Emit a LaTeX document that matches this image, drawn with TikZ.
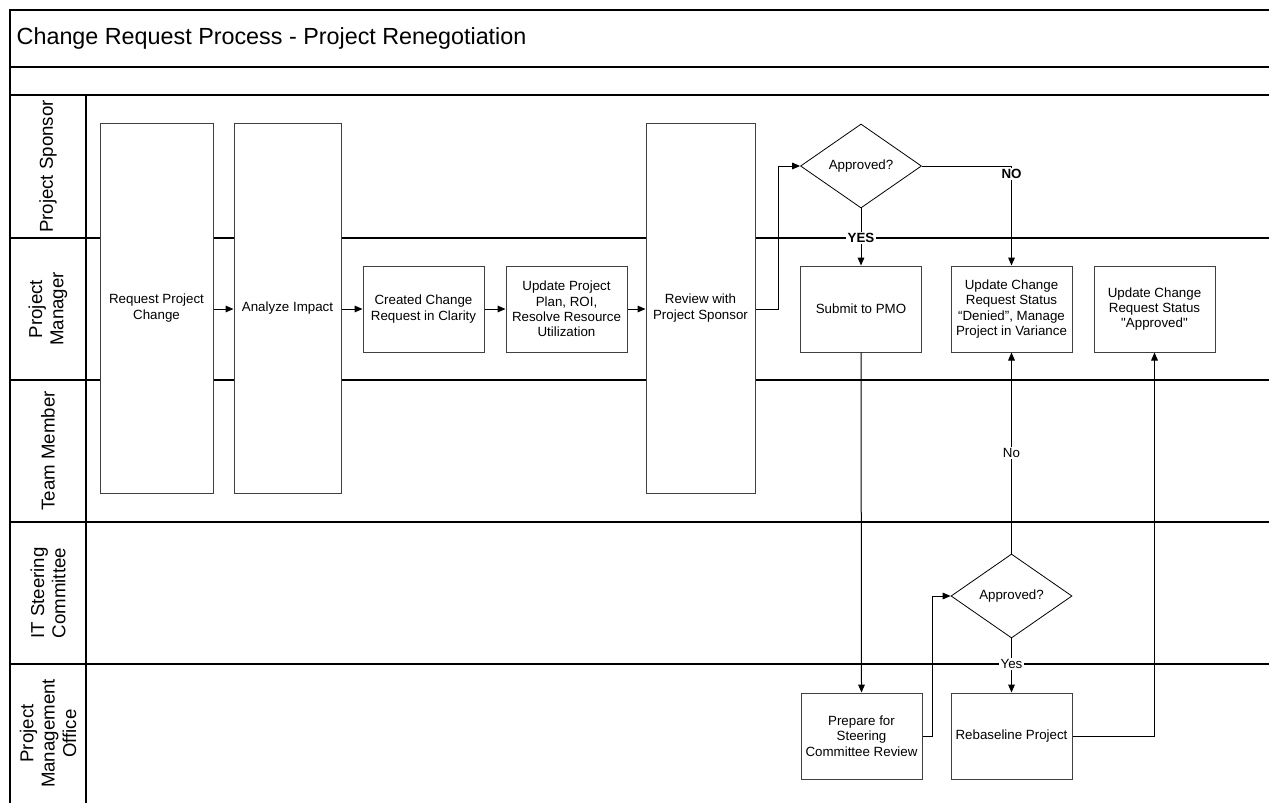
\documentclass[tikz,border=0pt]{standalone}
\usepackage{fontspec}
\setmainfont{Liberation Sans}
\usetikzlibrary{
  arrows.meta,
  calc,
  positioning,
  shapes
}

\tikzset{
  lanetext/.style={rotate=90, align=center, font=\fontsize{14}{16}\selectfont},
  laneline/.style={line width=0.8pt},
  task/.style={draw=black!75, fill=white, line width=0.75pt, align=center,
    font=\fontsize{10}{11.5}\selectfont, inner sep=2pt,
    minimum width=90.75pt, minimum height=64.5pt},
  tallbox/.style={task, minimum height=277.5pt},
  decision/.style={diamond, draw=black, fill=white, line width=0.6pt,
    aspect=1.44, inner sep=0pt, minimum width=90.75pt, minimum height=63pt,
    font=\fontsize{10}{11.5}\selectfont},
  flow/.style={->, >={Triangle[length=6pt,width=5pt]}, line width=0.75pt},
  lbl/.style={fill=white, inner sep=1pt, font=\bfseries\fontsize{10}{11.5}\selectfont},
  lblplain/.style={fill=white, inner sep=1pt, font=\fontsize{10}{11.5}\selectfont}
}

\begin{document}
\begin{tikzpicture}[x=0.75pt, y=-0.75pt]
  \useasboundingbox (0,0) rectangle (1269,803);
  % pool frame and title
  \draw[laneline] (10,803) -- (10,10) -- (1269,10);
  \draw[laneline] (10,67) -- (1269,67);
  \draw[laneline] (10,95) -- (1269,95);
  \node[anchor=west, font=\fontsize{17.5}{20}\selectfont] (Title) at (12,38)
    {Change Request Process - Project Renegotiation};
  % lanes
  \draw[laneline] (86,95) -- (86,803);
  \foreach \y in {238,380,522,664}
    \draw[laneline] (10,\y) -- (1269,\y);
  \node[lanetext] (LaneSponsor) at (48,166.5) {Project Sponsor};
  \node[lanetext] (LaneManager) at (48,309) {Project\\Manager};
  \node[lanetext] (LaneTeam) at (48,451) {Team Member};
  \node[lanetext] (LaneSteering) at (48,593) {IT Steering\\Committee};
  \node[lanetext] (LanePMO) at (48,733.5) {Project\\Management\\Office};

  % tall steps over three lanes
  \node[tallbox, minimum width=84.75pt] (ReqChange) at (156.5,308) {Request Project\\Change};
  \node[tallbox, minimum width=80.25pt] (Analyze) at (287.5,308) {Analyze Impact};
  \node[tallbox, minimum width=81.75pt] (Review) at (700.5,308) {Review with\\Project Sponsor};

  % steps
  \node[task] (CreateCR) at (423.5,309) {Created Change\\Request in Clarity};
  \node[task] (UpdatePlan) at (566.5,309) {Update Project\\Plan, ROI,\\Resolve Resource\\Utilization};
  \node[decision] (SponsorOK) at (861,166) {Approved?};
  \node[task] (SubmitPMO) at (861,309) {Submit to PMO};
  \node[task] (Denied) at (1011.5,309) {Update Change\\Request Status\\“Denied”, Manage\\Project in Variance};
  \node[task] (Approved) at (1154.5,309) {Update Change\\Request Status\\\textquotedbl Approved\textquotedbl};
  \node[decision] (SteeringOK) at (1011.5,596) {Approved?};
  \node[task] (Prepare) at (861.5,736) {Prepare for\\Steering\\Committee Review};
  \node[task] (Rebaseline) at (1011.5,736) {Rebaseline Project};

  % connectors
  \draw[flow] (ReqChange.east |- CreateCR) -- (Analyze.west |- CreateCR);
  \draw[flow] (Analyze.east |- CreateCR) -- (CreateCR.west);
  \draw[flow] (CreateCR) -- (UpdatePlan);
  \draw[flow] (UpdatePlan) -- (Review.west |- UpdatePlan);
  \draw[flow] (Review.east |- UpdatePlan) -- ++(23,0) |- (SponsorOK.west);
  \draw[flow] (SponsorOK.south) -- node[lbl, pos=0.52] {YES} (SubmitPMO.north);
  \draw[flow] (SponsorOK.east) -| node[lbl, pos=0.54] {NO} (Denied.north);
  \draw[flow] (SubmitPMO.south) -- (Prepare.north);
  \draw[flow] (Prepare.east) -- ++(10,0) |- (SteeringOK.west);
  \draw[flow] (SteeringOK.south) -- node[lblplain, pos=0.47] {Yes} (Rebaseline.north);
  \draw[flow] (SteeringOK.north) -- node[lblplain, pos=0.5] {No} (Denied.south);
  \draw[flow] (Rebaseline.east) -| (Approved.south);
\end{tikzpicture}
\end{document}
